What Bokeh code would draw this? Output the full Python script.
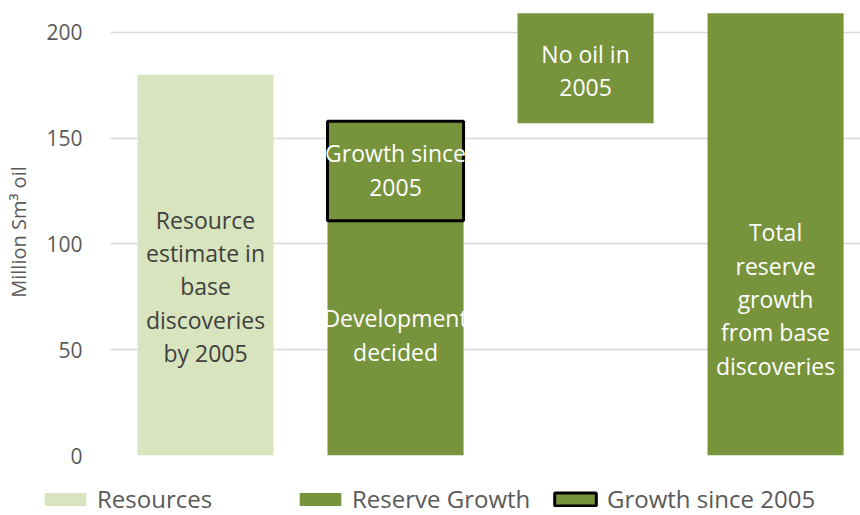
import numpy as np
from bokeh.plotting import figure
from bokeh.models import Range1d, FixedTicker, Legend, LegendItem
from bokeh.core.properties import value
from bokeh.embed import file_html
from bokeh.resources import INLINE

# ---- data ----
categories = ["Resources", "Development decided", "No oil in 2005", "Total reserve growth"]
res_bottom = [0]
res_top = [180]
rg_idx = [1, 2, 3]
rg_bottom = [0, 157, 0]
rg_top = [111, 209, 209]
g05_idx = [1]
g05_bottom = [111]
g05_top = [158]
label_idx = [0, 1, 1, 2, 3]
label_y = [80, 57, 135, 182, 74]
label_text = ["Resource\nestimate in\nbase\ndiscoveries\nby 2005",
              "Development\ndecided",
              "Growth since\n2005",
              "No oil in\n2005",
              "Total\nreserve\ngrowth\nfrom base\ndiscoveries"]
label_color = ["#404040", "white", "white", "white", "white"]
yticks = [0, 50, 100, 150, 200]
legend_labels = ["Resources", "Reserve Growth", "Growth since 2005"]

LIGHT = "#d7e4bd"
GREEN = "#77933c"
FONT = "Open Sans"

p = figure(width=860, height=470, output_backend="svg", toolbar_location=None,
           x_axis_type=None, x_range=Range1d(-0.5, 3.447), y_range=Range1d(0, 211.3),
           min_border_left=110, min_border_right=0, min_border_top=8, min_border_bottom=15)
p.outline_line_color = None
p.background_fill_color = "white"

p.vbar(x=[0], bottom=res_bottom, top=res_top, width=0.716,
       fill_color=LIGHT, line_color=None)
p.vbar(x=rg_idx, bottom=rg_bottom, top=rg_top, width=0.716,
       fill_color=GREEN, line_color=None)
p.vbar(x=g05_idx, bottom=g05_bottom, top=g05_top, width=0.716,
       fill_color=GREEN, line_color="black", line_width=3)

p.text(x=label_idx, y=label_y, text=label_text, text_color=label_color,
       text_font=value(FONT), text_font_size="23px", text_align="center",
       text_baseline="middle", text_line_height=1.04)

ax = p.yaxis[0]
ax.ticker = FixedTicker(ticks=yticks)
ax.axis_line_color = None
ax.major_tick_line_color = None
ax.minor_tick_line_color = None
ax.major_label_standoff = 22
ax.major_label_text_font = FONT
ax.major_label_text_font_size = "21px"
ax.major_label_text_color = "#595959"
ax.axis_label = "Million Sm³ oil"
ax.axis_label_text_font = FONT
ax.axis_label_text_font_size = "20px"
ax.axis_label_text_font_style = "normal"
ax.axis_label_text_color = "#595959"
ax.axis_label_standoff = 11

p.ygrid.ticker = FixedTicker(ticks=yticks)
p.ygrid.grid_line_color = "#d9d9d9"
p.ygrid.grid_line_width = 1.5
p.xgrid.grid_line_color = None

# legend strip below the chart (separate root, stacked under the chart)
lg = figure(width=860, height=45, output_backend="svg", toolbar_location=None,
            x_axis_type=None, y_axis_type=None, x_range=Range1d(0, 1), y_range=Range1d(0, 1),
            min_border_left=0, min_border_right=0, min_border_top=0, min_border_bottom=0)
lg.outline_line_color = None
lg.xgrid.grid_line_color = None
lg.ygrid.grid_line_color = None
blank = np.array([np.nan])
l1 = lg.vbar(x=blank, top=blank, width=0.5, fill_color=LIGHT, line_color=None)
l2 = lg.vbar(x=blank, top=blank, width=0.5, fill_color=GREEN, line_color=None)
l3 = lg.vbar(x=blank, top=blank, width=0.5, fill_color=GREEN, line_color="black", line_width=3)

legend = Legend(items=[LegendItem(label=legend_labels[0], renderers=[l1]),
                       LegendItem(label=legend_labels[1], renderers=[l2]),
                       LegendItem(label=legend_labels[2], renderers=[l3])],
                orientation="horizontal", location=(39, 0),
                glyph_width=52, glyph_height=16, label_width=197,
                label_text_font=FONT, label_text_font_size="24px",
                label_text_color="#595959", spacing=0, label_standoff=6,
                border_line_color=None, background_fill_alpha=0, padding=0, margin=0)
lg.add_layout(legend, "center")

open("out.html", "w").write(file_html([p, lg], INLINE))
